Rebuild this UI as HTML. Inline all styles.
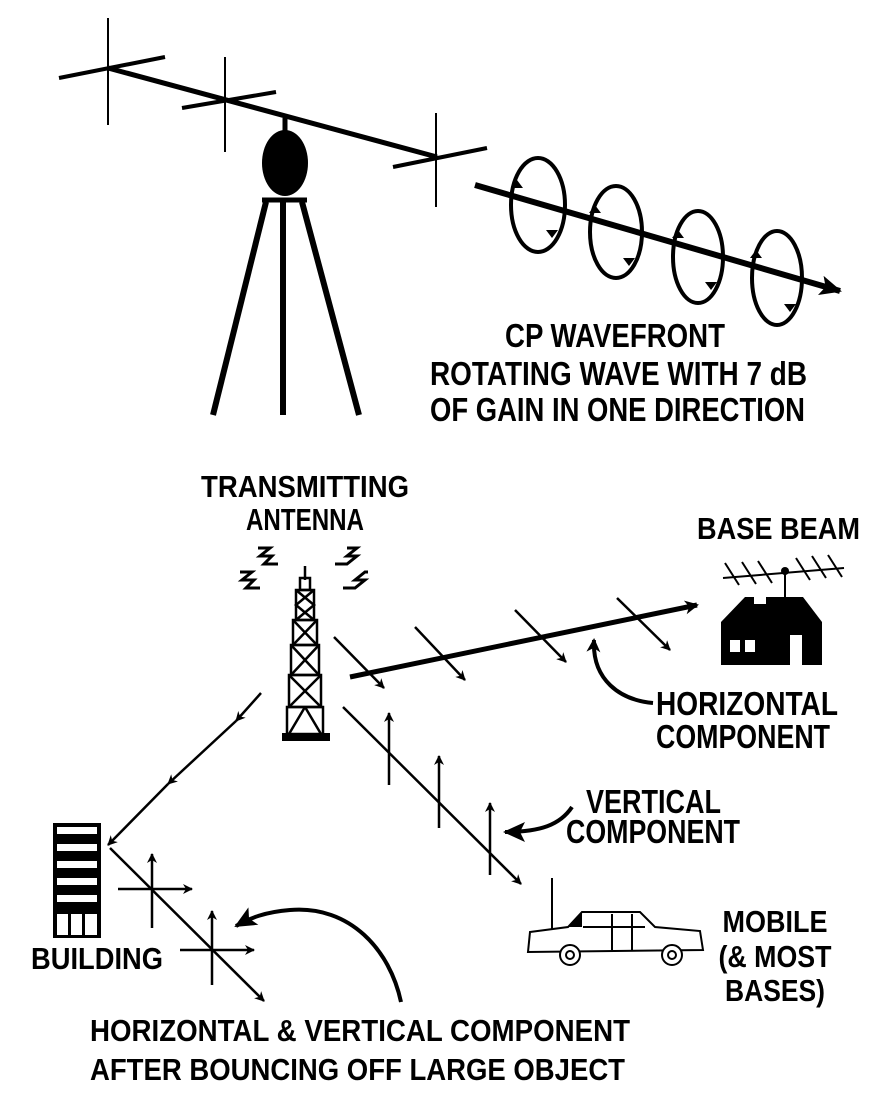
<!DOCTYPE html>
<html><head><meta charset="utf-8"><style>
html,body{margin:0;padding:0;background:#fff;}
svg{display:block;}
text{font-family:"Liberation Sans Narrow","Liberation Sans",sans-serif;font-weight:bold;fill:#000;}
</style></head><body>
<svg width="875" height="1097" viewBox="0 0 875 1097" xmlns="http://www.w3.org/2000/svg">
<defs>
<marker id="a" markerWidth="10" markerHeight="10" refX="9" refY="5" orient="auto" markerUnits="userSpaceOnUse"><path d="M0,0 L10,5 L0,10 L3,5 Z" fill="#000"/></marker>
<marker id="ab" markerWidth="24" markerHeight="20" refX="20" refY="10" orient="auto" markerUnits="userSpaceOnUse"><path d="M0,0 L22,10 L0,20 L5,10 Z" fill="#000"/></marker>
<marker id="as" markerWidth="14" markerHeight="14" refX="12" refY="7" orient="auto" markerUnits="userSpaceOnUse"><path d="M0,0 L14,7 L0,14 L4,7 Z" fill="#000"/></marker>
</defs>
<g stroke="#000" fill="none" stroke-linecap="butt">
<line x1="108" y1="68" x2="437" y2="157" stroke-width="5"/>
<line x1="108" y1="18" x2="108" y2="125" stroke-width="2"/>
<line x1="59" y1="78" x2="165" y2="57" stroke-width="4"/>
<line x1="225" y1="57" x2="225" y2="152" stroke-width="2"/>
<line x1="182" y1="108" x2="276" y2="92" stroke-width="4"/>
<line x1="436" y1="113" x2="436" y2="207" stroke-width="2"/>
<line x1="393" y1="167" x2="487" y2="148" stroke-width="4"/>
<line x1="285" y1="118" x2="285" y2="134" stroke-width="5"/>
<ellipse cx="285" cy="163" rx="23" ry="33" fill="#000" stroke="none"/>
<line x1="262" y1="200" x2="307" y2="200" stroke-width="5"/>
<line x1="283" y1="200" x2="283" y2="415" stroke-width="6"/>
<line x1="266" y1="202" x2="213" y2="415" stroke-width="6"/>
<line x1="302" y1="202" x2="359" y2="415" stroke-width="6"/>
<line x1="475" y1="185" x2="840" y2="291" stroke-width="6" marker-end="url(#ab)"/>
<ellipse cx="538" cy="205" rx="27" ry="47" stroke-width="4"/>
<ellipse cx="616" cy="232" rx="26" ry="46" stroke-width="4"/>
<ellipse cx="698" cy="257" rx="25" ry="46" stroke-width="4"/>
<ellipse cx="777" cy="278" rx="25" ry="47" stroke-width="4"/>
</g>
<g fill="#000">
<path d="M517,180 l-6,8 l12,0z M552,238 l-6,-8 l12,0z"/>
<path d="M595,205 l-6,8 l12,0z M629,266 l-6,-8 l12,0z"/>
<path d="M678,230 l-6,8 l12,0z M711,290 l-6,-8 l12,0z"/>
<path d="M756,250 l-6,8 l12,0z M790,312 l-6,-8 l12,0z"/>
</g>
<text x="615" y="347" text-anchor="middle" font-size="33" textLength="220" lengthAdjust="spacingAndGlyphs">CP WAVEFRONT</text>
<text x="430" y="385" font-size="33" textLength="377" lengthAdjust="spacingAndGlyphs">ROTATING WAVE WITH 7 dB</text>
<text x="430" y="421" font-size="33" textLength="375" lengthAdjust="spacingAndGlyphs">OF GAIN IN ONE DIRECTION</text>

<text x="305" y="497" text-anchor="middle" font-size="31" textLength="208" lengthAdjust="spacingAndGlyphs">TRANSMITTING</text>
<text x="305" y="530" text-anchor="middle" font-size="31" textLength="118" lengthAdjust="spacingAndGlyphs">ANTENNA</text>
<g stroke="#000" stroke-width="3" fill="none">
<path d="M258,548 h12 l-10,8 h12 l-8,8 h14"/>
<path d="M347,548 h10 l-10,8 h10 l-10,8 h-12"/>
<path d="M240,572 h12 l-10,8 h12 l-8,8 h14"/>
<path d="M368,572 h-3 l-10,8 h10 l-10,8 h-12"/>
</g>
<g stroke="#000" stroke-width="2.5" fill="none">
<line x1="305" y1="566" x2="305" y2="580"/>
<rect x="300" y="578" width="10" height="12"/>
<rect x="296" y="590" width="18" height="30"/>
<path d="M296,590 L314,605 L296,620 M314,590 L296,605 L314,620"/>
<rect x="293" y="620" width="24" height="25"/>
<path d="M293,620 L317,645 M317,620 L293,645"/>
<rect x="291" y="645" width="28" height="30"/>
<path d="M291,645 L319,675 M319,645 L291,675"/>
<rect x="289" y="675" width="32" height="32"/>
<path d="M289,675 L321,707 M321,675 L289,707"/>
<rect x="287" y="707" width="36" height="27"/>
<path d="M305,707 L289,734 M305,707 L321,734"/>
</g>
<rect x="282" y="733" width="48" height="8" fill="#000"/>
<g stroke="#000" fill="none">
<line x1="350" y1="677" x2="697" y2="605" stroke-width="5" marker-end="url(#as)"/>
<g stroke-width="2.5" marker-end="url(#a)">
<line x1="334" y1="637" x2="384" y2="688"/>
<line x1="415" y1="627" x2="465" y2="680"/>
<line x1="515" y1="610" x2="566" y2="662"/>
<line x1="617" y1="598" x2="670" y2="650"/>
</g>
<path d="M653,703 C620,700 592,680 594,640" stroke-width="4" marker-end="url(#as)"/>
</g>
<g stroke="#000" fill="none" stroke-width="2">
<path d="M723,578 L844,568"/>
<path d="M725,563 l14,22 M742,562 l14,22 M758,561 l14,22 M796,558 l14,22 M812,556 l14,22 M828,555 l14,22"/>
<line x1="785" y1="570" x2="785" y2="602"/>
</g>
<circle cx="785" cy="571" r="4" fill="#000"/>
<path d="M721,622 L745,597 L803,597 L822,622 L822,665 L721,665 Z" fill="#000"/>
<rect x="754" y="595" width="12" height="9" fill="#fff"/>
<rect x="730" y="640" width="10" height="12" fill="#fff"/>
<rect x="745" y="640" width="10" height="12" fill="#fff"/>
<rect x="790" y="635" width="12" height="30" fill="#fff"/>
<text x="697" y="539" font-size="31" textLength="163" lengthAdjust="spacingAndGlyphs">BASE BEAM</text>
<text x="656" y="715" font-size="33" textLength="182" lengthAdjust="spacingAndGlyphs">HORIZONTAL</text>
<text x="656" y="748" font-size="33" textLength="174" lengthAdjust="spacingAndGlyphs">COMPONENT</text>
<g stroke="#000" fill="none" stroke-width="2.5">
<line x1="343" y1="707" x2="521" y2="884" marker-end="url(#a)"/>
<line x1="389" y1="785" x2="389" y2="713" marker-end="url(#a)"/>
<line x1="439" y1="828" x2="439" y2="756" marker-end="url(#a)"/>
<line x1="490" y1="875" x2="490" y2="803" marker-end="url(#a)"/>
<path d="M572,807 C560,825 540,832 505,832" stroke-width="4" marker-end="url(#ab)"/>
</g>
<text x="586" y="813" font-size="33" textLength="135" lengthAdjust="spacingAndGlyphs">VERTICAL</text>
<text x="566" y="843" font-size="33" textLength="174" lengthAdjust="spacingAndGlyphs">COMPONENT</text>
<g stroke="#000" fill="none" stroke-width="2.5">
<line x1="261" y1="693" x2="236" y2="721" marker-end="url(#a)"/>
<line x1="236" y1="721" x2="168" y2="784" marker-end="url(#a)"/>
<line x1="168" y1="784" x2="108" y2="845" marker-end="url(#a)"/>
<line x1="110" y1="848" x2="264" y2="1001" marker-end="url(#a)"/>
<line x1="152" y1="928" x2="152" y2="854" marker-end="url(#a)"/>
<line x1="118" y1="889" x2="192" y2="889" marker-end="url(#a)"/>
<line x1="212" y1="985" x2="212" y2="911" marker-end="url(#a)"/>
<line x1="180" y1="950" x2="254" y2="950" marker-end="url(#a)"/>
<path d="M401,1002 C390,950 350,905 290,910 C265,912 250,918 236,926" stroke-width="4" marker-end="url(#ab)"/>
</g>
<rect x="53" y="823" width="48" height="115" fill="#000"/>
<g fill="#fff">
<rect x="57" y="827" width="40" height="7"/>
<rect x="57" y="844" width="40" height="7"/>
<rect x="57" y="861" width="40" height="7"/>
<rect x="57" y="878" width="40" height="7"/>
<rect x="57" y="895" width="40" height="7"/>
<rect x="57" y="914" width="11" height="21"/>
<rect x="71" y="914" width="11" height="21"/>
<rect x="85" y="914" width="12" height="21"/>
</g>
<text x="31" y="969" font-size="31" textLength="132" lengthAdjust="spacingAndGlyphs">BUILDING</text>
<g stroke="#000" fill="#fff" stroke-width="2">
<line x1="552" y1="878" x2="552" y2="930"/>
<path d="M530,932 L568,927 L582,912 L640,912 L655,927 L700,931 L703,950 L528,952 Z"/>
<line x1="583" y1="927" x2="645" y2="927"/>
<line x1="612" y1="914" x2="612" y2="950"/>
<line x1="632" y1="914" x2="632" y2="950"/>
<circle cx="570" cy="955" r="10"/><circle cx="570" cy="955" r="4"/>
<circle cx="672" cy="955" r="10"/><circle cx="672" cy="955" r="4"/>
</g>
<path d="M568,927 L582,912 L582,927 Z" fill="#000"/>
<text x="775" y="932" text-anchor="middle" font-size="31" textLength="105" lengthAdjust="spacingAndGlyphs">MOBILE</text>
<text x="775" y="967" text-anchor="middle" font-size="31" textLength="113" lengthAdjust="spacingAndGlyphs">(&amp; MOST</text>
<text x="775" y="1001" text-anchor="middle" font-size="31" textLength="100" lengthAdjust="spacingAndGlyphs">BASES)</text>
<text x="90" y="1041" font-size="31" textLength="540" lengthAdjust="spacingAndGlyphs">HORIZONTAL &amp; VERTICAL COMPONENT</text>
<text x="90" y="1080" font-size="31" textLength="535" lengthAdjust="spacingAndGlyphs">AFTER BOUNCING OFF LARGE OBJECT</text>
</svg>
</body></html>
